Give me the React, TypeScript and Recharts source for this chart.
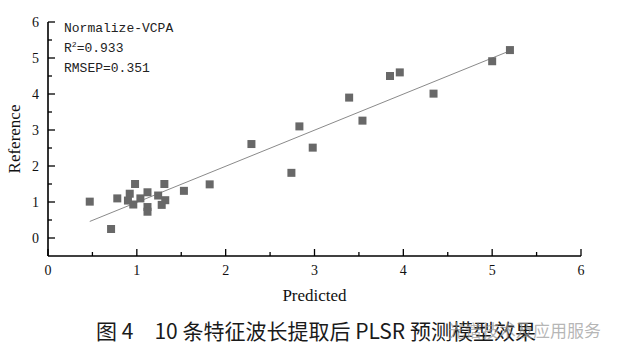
import { ScatterChart, Scatter, XAxis, YAxis, ReferenceLine, Label } from 'recharts'

// Predicted vs reference values
const predicted = [
  0.47, 0.71, 0.78, 0.98, 1.31, 1.53, 1.82, 0.92, 0.9, 0.96, 1.04, 1.12, 1.12, 1.12,
  1.24, 1.32, 1.28, 2.29, 2.74, 2.83, 2.98, 3.39, 3.54, 3.85, 3.96, 4.34, 5.0, 5.2,
]
const reference = [
  1.01, 0.25, 1.1, 1.5, 1.5, 1.31, 1.49, 1.23, 1.04, 0.93, 1.1, 1.27, 0.86, 0.73,
  1.18, 1.05, 0.92, 2.61, 1.81, 3.1, 2.51, 3.9, 3.26, 4.5, 4.6, 4.01, 4.91, 5.22,
]

// fitted line end points
const fitX = [0.47, 5.2]
const fitY = [0.46, 5.2]

const xTicks = [0, 0.5, 1, 1.5, 2, 2.5, 3, 3.5, 4, 4.5, 5, 5.5, 6]
const yTicks = [0, 0.5, 1, 1.5, 2, 2.5, 3, 3.5, 4, 4.5, 5, 5.5, 6]

const points = predicted.map((p, i) => ({ x: p, y: reference[i] }))

const SERIF = "'Liberation Serif', 'Times New Roman', serif"
const tickStyle = { fontFamily: SERIF, fontSize: 14, fill: '#111' }

const XTick = (props: any) => {
  const { x, y, payload } = props
  const major = Number.isInteger(payload.value)
  return (
    <g>
      <line x1={x} x2={x} y1={y} y2={y - (major ? 7 : 4)} stroke="#000" strokeWidth={1.3} />
      {major && (
        <text x={x} y={y + 14} textAnchor="middle" dominantBaseline="central" style={tickStyle}>
          {payload.value}
        </text>
      )}
    </g>
  )
}

const YTick = (props: any) => {
  const { x, y, payload } = props
  const major = Number.isInteger(payload.value)
  return (
    <g>
      <line x1={x} x2={x + (major ? 7 : 4)} y1={y} y2={y} stroke="#000" strokeWidth={1.3} />
      {major && (
        <text x={x - 9} y={y} textAnchor="end" dominantBaseline="central" style={tickStyle}>
          {payload.value}
        </text>
      )}
    </g>
  )
}

const Square = (props: any) => {
  const { cx, cy } = props
  return <rect x={cx - 4} y={cy - 4} width={8} height={8} fill="#686868" />
}

export default function App() {
  return (
    <div
      style={{
        position: 'absolute',
        left: 0,
        top: 0,
        width: 625,
        height: 355,
        background: '#fff',
        fontFamily: SERIF,
      }}
    >
      <ScatterChart width={625} height={355} margin={{ top: 22, right: 44, bottom: 0, left: 0 }}>
        <XAxis
          type="number"
          dataKey="x"
          domain={[0, 6]}
          ticks={xTicks}
          height={99}
          tickSize={0}
          tickMargin={0}
          tickLine={false}
          axisLine={{ stroke: '#000', strokeWidth: 1.6 }}
          tick={<XTick />}
          interval={0}
        >
          <Label
            value="Predicted"
            position="insideTop"
            offset={33}
            style={{ fontFamily: SERIF, fontSize: 17, fill: '#111' }}
          />
        </XAxis>
        <YAxis
          type="number"
          dataKey="y"
          domain={[-0.5, 6]}
          ticks={yTicks}
          width={48}
          tickSize={0}
          tickMargin={0}
          tickLine={false}
          axisLine={{ stroke: '#000', strokeWidth: 1.6 }}
          tick={<YTick />}
          interval={0}
        >
          <Label
            value="Reference"
            angle={-90}
            position="insideLeft"
            offset={14}
            style={{ fontFamily: SERIF, fontSize: 17, fill: '#111', textAnchor: 'middle' }}
          />
        </YAxis>
        <ReferenceLine
          segment={[
            { x: fitX[0], y: fitY[0] },
            { x: fitX[1], y: fitY[1] },
          ]}
          stroke="#8a8a8a"
          strokeWidth={1}
        />
        <Scatter data={points} shape={<Square />} isAnimationActive={false} />
      </ScatterChart>

      <div
        style={{
          position: 'absolute',
          left: 64,
          top: 19,
          fontFamily: "'Liberation Mono', monospace",
          fontSize: 13,
          lineHeight: '20px',
          color: '#222',
        }}
      >
        <div>Normalize-VCPA</div>
        <div>
          R<sup style={{ fontSize: 8, verticalAlign: 'top', lineHeight: '12px' }}>2</sup>=0.933
        </div>
        <div>RMSEP=0.351</div>
      </div>

      <div
        style={{
          position: 'absolute',
          left: 0,
          width: 632,
          top: 314,
          textAlign: 'center',
          fontFamily: "'Noto Sans CJK SC', sans-serif",
          fontSize: 21,
          lineHeight: '32px',
          color: '#1a1a1a',
          whiteSpace: 'pre',
        }}
      >
        {'图 4　10 条特征波长提取后 PLSR 预测模型效果'}
      </div>
      <div
        style={{
          position: 'absolute',
          left: 448,
          top: 318,
          fontFamily: "'Noto Sans CJK SC', sans-serif",
          fontSize: 17,
          lineHeight: '24px',
          color: 'rgba(150,150,150,0.7)',
          whiteSpace: 'pre',
        }}
      >
        {'光谱技术及应用服务'}
      </div>
    </div>
  )
}
